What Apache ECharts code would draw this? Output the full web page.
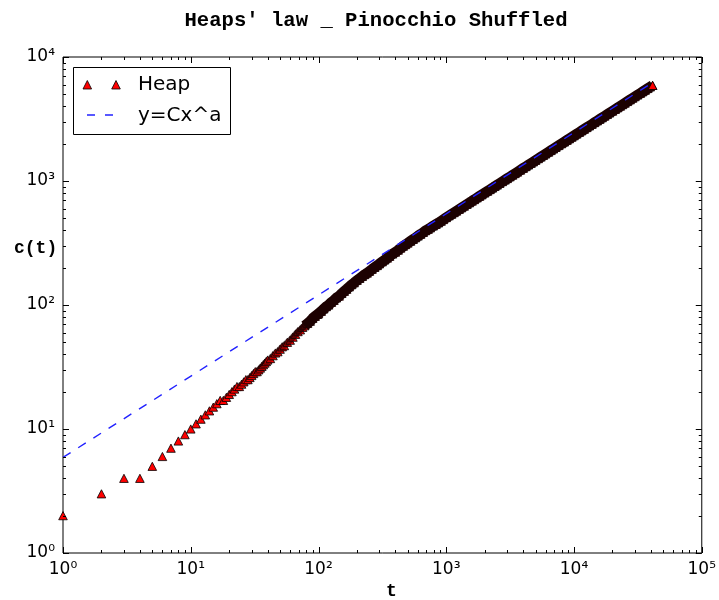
<!DOCTYPE html>
<html><head><meta charset="utf-8">
<script src="https://cdn.jsdelivr.net/npm/echarts@6/dist/echarts.min.js"></script>
<style>html,body{margin:0;padding:0;background:#fff}#chart{width:719px;height:600px}</style>
</head><body><div id="chart"></div>
<script>
// ---- data ----
const tValues = [
  1,2,3,4,5,6,7,8,9,10,11,12,13,14,15,16,17,18,19,20,
  21,22,23,24,25,26,27,28,29,30,31,32,33,34,35,36,37,38,39,40,
  42,44,46,48,50,52,54,57,60,63,66,69,72,75,78,82,86,90,94,98,
  100,105,110,115,120,126,132,138,145,152,159,166,174,182,190,
  200,210,220,230,240,250,262,275,288,300,315,330,345,360,380,
  400,420,440,460,480,500,525,550,575,600,630,660,690,720,750,
  790,830,870,910,950,1000,
  1050,1100,1150,1200,1260,1320,1380,1450,1520,1590,1660,1740,1820,1900,
  2000,2100,2200,2300,2400,2500,2620,2750,2880,3000,3150,3300,3450,3600,3800,
  4000,4200,4400,4600,4800,5000,5250,5500,5750,6000,6300,6600,6900,7200,7600,
  8000,8400,8800,9200,9600,10000,10500,11000,11500,12000,12600,13200,13800,
  14500,15200,15900,16600,17400,18200,19000,20000,21000,22000,23000,24000,
  25000,26200,27500,28800,30000,31500,33000,34500,36000,37800,39500,41200
];
const cValues = [
  2,3,4,4,5,6,7,8,9,10,11,12,13,14,15,16,17,17,18,19,
  20,21,22,22,23,24,25,25,26,27,28,29,29,30,31,32,33,34,35,36,
  37,39,41,42,44,46,47,50,52,55,58,61,63,66,68,71,74,78,81,84,
  85,89,93,97,100,105,109,114,118,124,129,134,140,146,151,
  158,164,170,176,181,187,194,201,208,215,223,231,239,247,258,
  267,277,288,298,307,316,327,338,349,360,372,385,398,408,419,
  434,447,460,474,489,507,
  524,540,556,572,591,609,627,648,668,689,708,731,753,774,
  801,827,853,878,904,928,957,989,1019,1047,1081,1115,1148,1181,1224,
  1266,1307,1348,1388,1428,1467,1515,1562,1608,1654,1708,1762,1814,1866,1933,
  2000,2065,2130,2193,2256,2317,2393,2468,2541,2614,2699,2783,2866,
  2961,3055,3147,3238,3340,3441,3540,3662,3782,3899,4015,4130,
  4243,4376,4518,4658,4785,4942,5096,5248,5397,5574,5738,5900
];
const fitT = [1, 41200];
const fitC = [5.9, 6216];
const xMajorTicks = [1, 10, 100, 1000, 10000, 100000];
const yMajorTicks = [1, 10, 100, 1000, 10000];
const minorMultipliers = [2, 3, 4, 5, 6, 7, 8, 9];
const seriesNames = ['Heap', 'y=Cx^a'];
const titleText = "Heaps' law _ Pinocchio Shuffled";

// ---- build ----
const heapData = tValues.map((t, i) => [t, cValues[i]]);
const fitData = fitT.map((t, i) => [t, fitC[i]]);
// where thousands of overlapping markers merge into a dark band
const bandFade = heapData.filter(p => p[0] >= 30 && p[0] <= 82);
const bandDense = heapData.filter(p => p[0] >= 78);
const lastPoint = heapData.slice(-1);

const supDigits = ['⁰','¹','²','³','⁴','⁵','⁶','⁷','⁸','⁹'];
function powLabel(v) {
  const e = Math.round(Math.log10(v));
  return '10' + String(e).split('').map(d => supDigits[+d]).join('');
}
function tickItems(majors, isY) {
  const items = [];
  majors.forEach((m, i) => {
    items.push(isY ? [1, m, 1, 1] : [m, 1, 0, 1]);
    if (i < majors.length - 1) {
      minorMultipliers.forEach(k => items.push(isY ? [1, m * k, 1, 0] : [m * k, 1, 0, 0]));
    }
  });
  return items;
}
const tickData = tickItems(xMajorTicks, false).concat(tickItems(yMajorTicks, true));

const chart = echarts.init(document.getElementById('chart'), null, {renderer: 'canvas'});
const labelFont = 'DejaVu Sans';
const monoFont = 'Liberation Mono';
const markerStyle = {color: '#ff0000', borderColor: '#000', borderWidth: 0.8, opacity: 1};
const bandColor = '#1c0101';

chart.setOption({
  animation: false,
  backgroundColor: '#fff',
  title: {
    text: titleText, left: 371, top: 5, textAlign: 'center',
    textStyle: {fontFamily: monoFont, fontWeight: 'bold', fontSize: 20.6, color: '#000'}
  },
  grid: {left: 63, right: 15, top: 57, bottom: 47, show: true, borderColor: '#000', borderWidth: 1},
  xAxis: {
    type: 'log', logBase: 10, min: 1, max: 100000,
    axisLine: {show: false}, axisTick: {show: false}, splitLine: {show: false},
    axisLabel: {formatter: powLabel, margin: 8, color: '#000', fontFamily: labelFont, fontSize: 17}
  },
  yAxis: {
    type: 'log', logBase: 10, min: 1, max: 10000,
    axisLine: {show: false}, axisTick: {show: false}, splitLine: {show: false},
    axisLabel: {formatter: powLabel, margin: 8, color: '#000', fontFamily: labelFont, fontSize: 17}
  },
  graphic: [
    {type: 'text', left: 386, top: 582, style: {text: 't', font: 'bold 18px "Liberation Mono"', fill: '#000'}},
    {type: 'text', left: 14, top: 239, style: {text: 'c(t)', font: 'bold 18px "Liberation Mono"', fill: '#000'}},
    {type: 'rect', z: 100, shape: {x: 73.5, y: 67.5, width: 157, height: 67}, style: {fill: '#fff', stroke: '#000', lineWidth: 1}},
    {type: 'polygon', z: 101, shape: {points: [[83, 89], [91.6, 89], [87.3, 80.5]]}, style: {fill: '#ff0000', stroke: '#000', lineWidth: 0.8}},
    {type: 'polygon', z: 101, shape: {points: [[111.7, 89], [120.3, 89], [116, 80.5]]}, style: {fill: '#ff0000', stroke: '#000', lineWidth: 0.8}},
    {type: 'text', z: 101, x: 138, y: 84.5, style: {text: seriesNames[0], font: '20px "DejaVu Sans"', fill: '#000', textVerticalAlign: 'middle', verticalAlign: 'middle'}},
    {type: 'line', z: 101, shape: {x1: 87, y1: 115, x2: 114, y2: 115}, style: {stroke: '#2222ff', lineWidth: 1.4, lineDash: [8, 10]}},
    {type: 'text', z: 101, x: 138, y: 116, style: {text: seriesNames[1], font: '20px "DejaVu Sans"', fill: '#000', textVerticalAlign: 'middle', verticalAlign: 'middle'}}
  ],
  series: [
    {
      name: seriesNames[0], type: 'scatter', data: heapData, large: false,
      symbol: 'triangle', symbolSize: [8.6, 8.2],
      itemStyle: markerStyle, emphasis: {disabled: true}, z: 2
    },
    {
      type: 'line', data: bandFade, symbol: 'none', silent: true,
      lineStyle: {
        color: new echarts.graphic.LinearGradient(0, 0, 1, 0, [
          {offset: 0, color: 'rgba(28,1,1,0)'},
          {offset: 0.45, color: 'rgba(28,1,1,0.35)'},
          {offset: 1, color: 'rgba(28,1,1,1)'}
        ]),
        width: 6.5, cap: 'butt', join: 'round'
      }, z: 3
    },
    {
      type: 'line', data: bandDense, symbol: 'none', silent: true,
      lineStyle: {color: bandColor, width: 10.5, cap: 'butt', join: 'round'}, z: 3
    },
    {
      name: seriesNames[1], type: 'line', data: fitData, symbol: 'none',
      lineStyle: {color: '#2222ff', width: 1.4, type: [9, 9]},
      emphasis: {disabled: true}, z: 4
    },
    {
      type: 'scatter', data: lastPoint, symbol: 'triangle', symbolSize: [8.6, 8.2],
      itemStyle: markerStyle, emphasis: {disabled: true}, z: 5
    },
    {
      type: 'custom', data: tickData, z: 6, silent: true,
      renderItem: function (params, api) {
        const cs = params.coordSys;
        const p = api.coord([api.value(0), api.value(1)]);
        const isY = api.value(2) === 1;
        const len = api.value(3) === 1 ? 6 : 3;
        const st = {stroke: '#000', lineWidth: 1};
        if (!isY) {
          const x = Math.round(p[0]) + 0.5;
          const b = cs.y + cs.height;
          return {type: 'group', children: [
            {type: 'line', shape: {x1: x, y1: b, x2: x, y2: b - len}, style: st},
            {type: 'line', shape: {x1: x, y1: cs.y, x2: x, y2: cs.y + len}, style: st}
          ]};
        }
        const y = Math.round(p[1]) + 0.5;
        const r = cs.x + cs.width;
        return {type: 'group', children: [
          {type: 'line', shape: {x1: cs.x, y1: y, x2: cs.x + len, y2: y}, style: st},
          {type: 'line', shape: {x1: r, y1: y, x2: r - len, y2: y}, style: st}
        ]};
      }
    }
  ]
});
</script></body></html>
